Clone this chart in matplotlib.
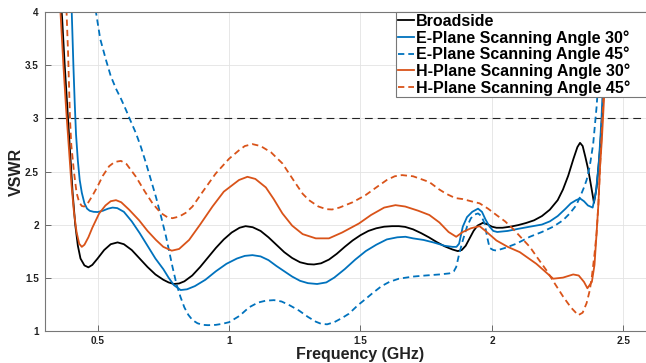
import matplotlib
matplotlib.use("Agg")
import matplotlib.pyplot as plt

plt.rcParams['font.family'] = ['Liberation Sans', 'DejaVu Sans']

# ---------------- data ----------------
freq_bs = [0.355,0.365,0.375,0.385,0.395,0.405,0.415,0.425,0.435,0.45,0.465,0.48,0.50,0.525,0.55,0.576,0.60,0.63,0.66,0.69,
           0.72,0.75,0.77,0.79,0.81,0.83,0.86,0.89,0.92,0.95,0.98,1.01,1.04,1.063,1.09,1.12,1.15,1.18,1.21,1.24,
           1.27,1.30,1.323,1.35,1.38,1.41,1.44,1.47,1.50,1.53,1.56,1.59,1.62,1.646,1.67,1.70,1.73,1.76,1.79,1.82,
           1.85,1.87,1.885,1.90,1.915,1.93,1.945,1.966,1.985,2.0,2.017,2.04,2.07,2.10,2.13,2.16,2.19,2.22,2.25,2.27,
           2.29,2.31,2.325,2.335,2.345,2.355,2.366,2.378,2.388,2.398,2.41,2.42,2.43,2.44,2.445]
vswr_bs = [4.3,3.95,3.5,3.1,2.7,2.3,2.0,1.8,1.68,1.615,1.597,1.62,1.68,1.76,1.815,1.832,1.815,1.76,1.68,1.60,
           1.53,1.48,1.455,1.44,1.445,1.465,1.52,1.60,1.69,1.78,1.86,1.925,1.97,1.985,1.975,1.94,1.88,1.81,1.74,1.685,
           1.645,1.627,1.624,1.635,1.67,1.725,1.79,1.85,1.90,1.94,1.965,1.98,1.985,1.985,1.978,1.955,1.92,1.88,1.835,1.795,
           1.765,1.75,1.76,1.80,1.87,1.94,1.99,2.017,2.0,1.98,1.97,1.97,1.98,1.995,2.015,2.04,2.08,2.14,2.23,2.33,
           2.46,2.62,2.73,2.77,2.74,2.64,2.52,2.35,2.205,2.35,2.68,3.05,3.5,4.0,4.3]

freq_e30 = [0.398,0.403,0.408,0.413,0.418,0.425,0.432,0.44,0.45,0.46,0.47,0.485,0.50,0.52,0.54,0.557,0.575,0.60,0.63,0.66,
            0.69,0.72,0.75,0.77,0.79,0.816,0.84,0.87,0.91,0.95,0.99,1.03,1.06,1.089,1.12,1.15,1.18,1.21,1.24,1.27,
            1.30,1.335,1.37,1.40,1.44,1.48,1.52,1.56,1.60,1.64,1.671,1.70,1.74,1.78,1.82,1.85,1.865,1.875,1.889,1.905,
            1.925,1.947,1.962,1.975,1.991,2.005,2.02,2.06,2.10,2.144,2.19,2.22,2.25,2.28,2.30,2.32,2.335,2.35,2.365,2.383,
            2.395,2.405,2.412,2.417,2.425,2.433,2.437]
vswr_e30 = [4.3,3.9,3.5,3.15,2.85,2.6,2.42,2.3,2.2,2.15,2.13,2.12,2.118,2.13,2.15,2.16,2.155,2.12,2.03,1.92,
            1.80,1.68,1.58,1.50,1.43,1.383,1.39,1.42,1.48,1.56,1.63,1.68,1.705,1.712,1.70,1.665,1.61,1.56,1.51,1.47,
            1.448,1.44,1.455,1.50,1.58,1.67,1.75,1.81,1.86,1.88,1.885,1.87,1.855,1.83,1.80,1.79,1.79,1.82,1.98,2.07,
            2.12,2.15,2.12,2.05,1.98,1.94,1.93,1.94,1.96,1.98,2.0,2.03,2.08,2.15,2.2,2.23,2.246,2.22,2.18,2.16,
            2.3,2.54,2.8,3.02,3.5,4.0,4.3]

freq_e45 = [0.49,0.494,0.51,0.532,0.55,0.57,0.59,0.608,0.625,0.646,0.665,0.684,0.703,0.722,0.741,0.76,0.773,0.785,0.80,0.815,
            0.83,0.845,0.861,0.88,0.90,0.92,0.95,0.975,1.0,1.04,1.076,1.11,1.14,1.171,1.20,1.23,1.266,1.30,1.33,1.35,
            1.373,1.40,1.43,1.456,1.49,1.52,1.544,1.58,1.61,1.646,1.70,1.747,1.80,1.838,1.855,1.864,1.875,1.889,1.905,1.92,
            1.935,1.947,1.96,1.972,1.982,1.991,2.005,2.017,2.05,2.093,2.144,2.19,2.233,2.27,2.296,2.32,2.335,2.35,2.36,2.372,
            2.385,2.398,2.41,2.42,2.425]
vswr_e45 = [4.3,4.0,3.75,3.55,3.4,3.28,3.18,3.08,2.98,2.86,2.73,2.58,2.42,2.26,2.08,1.89,1.74,1.60,1.44,1.32,
            1.22,1.15,1.10,1.07,1.055,1.052,1.055,1.065,1.08,1.14,1.22,1.265,1.283,1.288,1.275,1.24,1.19,1.13,1.085,1.065,
            1.06,1.08,1.12,1.16,1.24,1.30,1.35,1.42,1.46,1.49,1.51,1.52,1.53,1.54,1.56,1.60,1.72,1.85,1.98,2.06,
            2.095,2.105,2.08,2.01,1.88,1.78,1.76,1.755,1.78,1.82,1.885,1.93,1.98,2.04,2.105,2.18,2.26,2.35,2.42,2.55,
            2.76,3.11,3.55,4.0,4.3]

freq_h30 = [0.352,0.36,0.37,0.38,0.39,0.40,0.41,0.42,0.43,0.44,0.45,0.465,0.48,0.506,0.53,0.55,0.57,0.59,0.62,0.658,
            0.69,0.722,0.75,0.782,0.81,0.848,0.89,0.937,0.98,1.038,1.07,1.10,1.14,1.17,1.203,1.24,1.28,1.33,1.38,1.43,
            1.494,1.54,1.59,1.633,1.67,1.72,1.762,1.80,1.835,1.864,1.889,1.92,1.953,1.98,2.017,2.06,2.106,2.169,2.233,2.27,
            2.309,2.33,2.35,2.363,2.38,2.39,2.398,2.405,2.411,2.418,2.424,2.435,2.445,2.45]
vswr_h30 = [4.3,3.95,3.5,3.1,2.75,2.4,2.12,1.93,1.82,1.79,1.81,1.88,1.97,2.105,2.18,2.22,2.23,2.21,2.14,2.04,
            1.94,1.855,1.79,1.754,1.77,1.855,2.0,2.17,2.31,2.42,2.45,2.43,2.35,2.24,2.105,1.99,1.91,1.87,1.87,1.925,
            2.01,2.09,2.16,2.183,2.17,2.13,2.09,2.02,1.93,1.885,1.93,1.965,1.985,1.93,1.85,1.79,1.74,1.63,1.49,1.5,
            1.53,1.52,1.46,1.40,1.46,1.62,1.92,2.2,2.54,2.8,3.08,3.6,4.0,4.3]

freq_h45 = [0.375,0.382,0.388,0.395,0.40,0.41,0.42,0.43,0.44,0.449,0.46,0.48,0.50,0.52,0.544,0.565,0.589,0.61,0.646,0.68,
            0.709,0.74,0.765,0.785,0.81,0.835,0.861,0.90,0.949,1.0,1.038,1.06,1.089,1.12,1.16,1.203,1.25,1.28,1.304,1.34,
            1.37,1.392,1.42,1.47,1.519,1.56,1.60,1.63,1.658,1.70,1.74,1.762,1.80,1.826,1.86,1.889,1.92,1.953,1.985,2.017,
            2.05,2.08,2.11,2.144,2.175,2.207,2.24,2.271,2.30,2.328,2.345,2.36,2.372,2.38,2.39,2.398,2.405,2.411,2.42,2.43,
            2.44,2.445]
vswr_h45 = [4.3,4.0,3.6,3.0,2.75,2.5,2.3,2.21,2.175,2.17,2.19,2.27,2.36,2.46,2.55,2.59,2.60,2.57,2.45,2.31,
            2.20,2.11,2.07,2.06,2.075,2.11,2.17,2.31,2.48,2.62,2.70,2.74,2.758,2.74,2.68,2.576,2.40,2.29,2.23,2.17,
            2.145,2.142,2.16,2.21,2.277,2.35,2.42,2.455,2.466,2.455,2.42,2.40,2.33,2.29,2.25,2.24,2.22,2.20,2.15,2.09,
            2.03,1.96,1.88,1.79,1.68,1.57,1.44,1.32,1.22,1.146,1.17,1.26,1.38,1.51,1.72,1.92,2.2,2.54,3.0,3.5,
            4.0,4.3]

vswr_threshold = 3.0
labels = ['Broadside', 'E-Plane Scanning Angle 30°', 'E-Plane Scanning Angle 45°',
          'H-Plane Scanning Angle 30°', 'H-Plane Scanning Angle 45°']
xticks = [0.5, 1, 1.5, 2, 2.5]
xticklabels = ['0.5', '1', '1.5', '2', '2.5']
yticks = [1, 1.5, 2, 2.5, 3, 3.5, 4]
yticklabels = ['1', '1.5', '2', '2.5', '3', '3.5', '4']

# ---------------- figure ----------------
W, H = 646, 363
fig = plt.figure(figsize=(W / 100, H / 100), dpi=100)
ax_l, ax_r, ax_t, ax_b = 45, 676, 12.3, 330.7
ax = fig.add_axes([ax_l / W, 1 - ax_b / H, (ax_r - ax_l) / W, (ax_b - ax_t) / H])

blue = '#0072BD'
orange = '#D95319'
lw = 1.3
dash = (3.5, 2.2)

ax.plot(freq_bs, vswr_bs, color='black', lw=lw, label=labels[0])
ax.plot(freq_e30, vswr_e30, color=blue, lw=lw, label=labels[1])
ax.plot(freq_e45, vswr_e45, color=blue, lw=lw, dashes=dash, label=labels[2])
ax.plot(freq_h30, vswr_h30, color=orange, lw=lw, label=labels[3])
ax.plot(freq_h45, vswr_h45, color=orange, lw=lw, dashes=dash, label=labels[4])
ax.axhline(vswr_threshold, color='#222222', lw=0.8, dashes=(7, 4.5), zorder=1.5)

ax.set_xlim(0.3, 2.7)
ax.set_ylim(1, 4)
ax.set_xticks(xticks)
ax.set_xticklabels(xticklabels)
ax.set_yticks(yticks)
ax.set_yticklabels(yticklabels)
ax.grid(True, color='#e3e3e3', lw=0.6)
ax.set_axisbelow(True)
ax.tick_params(direction='in', length=4, width=0.6, colors='#555555', labelcolor='#222222',
               labelsize=7.2)
ax.tick_params(axis='x', pad=3.5)
ax.tick_params(axis='y', pad=4.5)
for t in ax.get_xticklabels() + ax.get_yticklabels():
    t.set_fontweight('bold')
for s in ax.spines.values():
    s.set_color('#777777')
    s.set_linewidth(0.8)

ax.set_xlabel('Frequency (GHz)', fontsize=11.5, fontweight='bold', color='#222222')
ax.set_ylabel('VSWR', fontsize=11.5, fontweight='bold', color='#222222')
ax.xaxis.set_label_coords(0.5, -(347 - ax_b) / (ax_b - ax_t))
ax.yaxis.set_label_coords(-(46 - 25) / (ax_r - ax_l), 0.5)

leg = ax.legend(loc='upper left',
                bbox_to_anchor=(396 / W, 1 - 16 / H, 270 / W, 0.01),
                bbox_transform=fig.transFigure, mode='expand',
                prop={'weight': 'bold', 'size': 11.5}, frameon=True, fancybox=False,
                framealpha=1, edgecolor='#777777', borderpad=0.1, labelspacing=0.07,
                handlelength=1.05, handletextpad=0.12, borderaxespad=0)
leg.get_frame().set_linewidth(0.8)

fig.savefig('out.png', dpi=100)
